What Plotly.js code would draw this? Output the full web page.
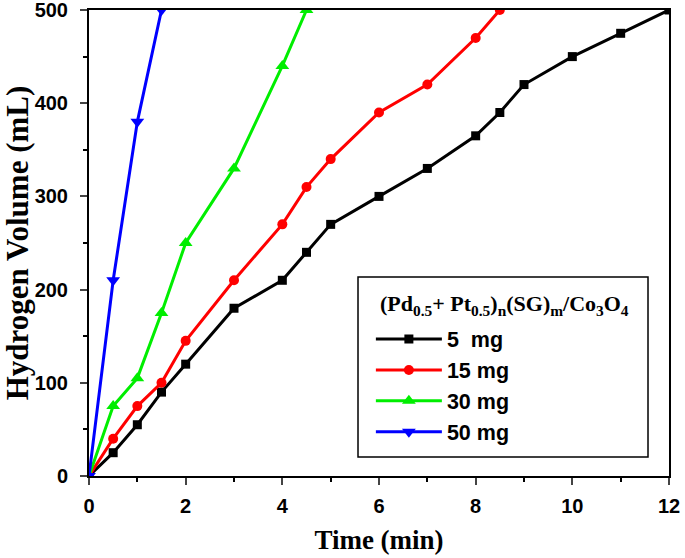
<!DOCTYPE html>
<html><head><meta charset="utf-8">
<script src="https://cdn.plot.ly/plotly-3.0.1.min.js"></script>
<style>body{margin:0;background:#fff}#chart{width:685px;height:558px}</style>
</head><body><div id="chart"></div>
<script>
const legendTitle = "(Pd<sub>0.5</sub>+ Pt<sub>0.5</sub>)<sub>n</sub>(SG)<sub>m</sub>/Co<sub>3</sub>O<sub>4</sub>";
const names = ["5  mg", "15 mg", "30 mg", "50 mg"];
const colors = ["#000000", "#ff0000", "#00ee00", "#0000ff"];
const symbols = ["square", "circle", "triangle-up", "triangle-down"];
const t5 = [0, 0.5, 1, 1.5, 2, 3, 4, 4.5, 5, 6, 7, 8, 8.5, 9, 10, 11, 12];
const v5 = [0, 25, 55, 90, 120, 180, 210, 240, 270, 300, 330, 365, 390, 420, 450, 475, 500];
const t15 = [0, 0.5, 1, 1.5, 2, 3, 4, 4.5, 5, 6, 7, 8, 8.5];
const v15 = [0, 40, 75, 100, 145, 210, 270, 310, 340, 390, 420, 470, 500];
const t30 = [0, 0.5, 1, 1.5, 2, 3, 4, 4.5];
const v30 = [0, 75, 105, 175, 250, 330, 440, 500];
const t50 = [0, 0.5, 1, 1.5];
const v50 = [0, 210, 380, 500];
const xs = [t5, t15, t30, t50];
const ys = [v5, v15, v30, v50];
const msize = [9, 10, 12, 12];

const data = xs.map((x, i) => ({
  x: x, y: ys[i], name: names[i], type: "scatter", mode: "lines+markers",
  line: {color: colors[i], width: 3},
  marker: {color: colors[i], symbol: symbols[i], size: msize[i]}
}));

const layout = {
  width: 685, height: 558,
  margin: {l: 89, r: 16, t: 10, b: 82},
  paper_bgcolor: "#fff", plot_bgcolor: "#fff",
  showlegend: true,
  font: {family: "Liberation Sans, Arial, sans-serif", color: "#000"},
  xaxis: {
    range: [0, 12], tickvals: [0, 2, 4, 6, 8, 10, 12], ticks: "outside", ticklen: 7, tickwidth: 2,
    ticklabeloverflow: "allow", ticklabelstandoff: 4,
    minor: {dtick: 1, ticks: "outside", ticklen: 4, tickwidth: 2, tickcolor: "#000"},
    showline: true, linewidth: 2, linecolor: "#000", mirror: true, showgrid: false, zeroline: false,
    tickfont: {family: "Liberation Sans, Arial", size: 20, weight: "bold"},
    title: {text: "Time (min)", font: {family: "Liberation Serif, Times New Roman, serif", size: 27, weight: "bold"}, standoff: 14}
  },
  yaxis: {
    range: [0, 500], tickvals: [0, 100, 200, 300, 400, 500], ticks: "outside", ticklen: 7, tickwidth: 2,
    ticklabeloverflow: "allow", ticklabelstandoff: 8,
    minor: {dtick: 50, ticks: "outside", ticklen: 4, tickwidth: 2, tickcolor: "#000"},
    showline: true, linewidth: 2, linecolor: "#000", mirror: true, showgrid: false, zeroline: false,
    tickfont: {family: "Liberation Sans, Arial", size: 20, weight: "bold"},
    title: {text: "Hydrogen Volume (mL)", font: {family: "Liberation Serif, Times New Roman, serif", size: 31, weight: "bold"}, standoff: 6}
  },
  shapes: [{
    type: "rect", xref: "paper", yref: "paper", layer: "above",
    x0: 0.4638, x1: 0.9638, y0: 0.0408, y1: 0.4270,
    line: {color: "#000", width: 1.5}, fillcolor: "#fff"
  }],
  annotations: [{
    text: legendTitle, xref: "paper", yref: "paper", x: 0.4983, y: 0.366,
    xanchor: "left", yanchor: "middle", showarrow: false,
    font: {family: "Liberation Serif, Times New Roman, serif", size: 22, weight: "bold", color: "#000"}
  }],
  legend: {
    x: 0.486, y: 0.338, xanchor: "left", yanchor: "top",
    borderwidth: 0, bgcolor: "rgba(0,0,0,0)",
    itemwidth: 66,
    font: {family: "Liberation Sans, Arial", size: 21.5, weight: "bold"}
  }
};
Plotly.newPlot("chart", data, layout, {displayModeBar: false});
</script></body></html>
